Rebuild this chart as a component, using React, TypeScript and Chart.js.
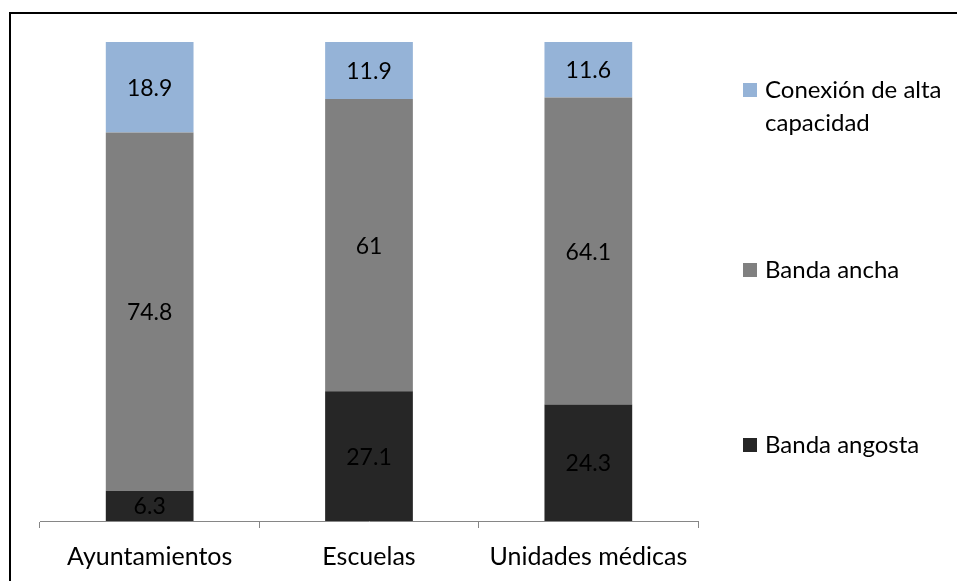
import React, { useEffect, useRef } from "react";
import { Chart, registerables } from "chart.js";

Chart.register(...registerables);

const categories = ["Ayuntamientos", "Escuelas", "Unidades médicas"];
const seriesNames = ["Banda angosta", "Banda ancha", "Conexión de alta capacidad"];
const legendLines = [["Banda angosta"], ["Banda ancha"], ["Conexión de alta", "capacidad"]];
const bandaAngosta = [6.3, 27.1, 24.3];
const bandaAncha = [74.8, 61, 64.1];
const altaCapacidad = [18.9, 11.9, 11.6];
const seriesColors = ["#262626", "#808080", "#95B3D7"];

const FONT = "Lato, 'Open Sans', sans-serif";

const valueLabels = {
  id: "valueLabels",
  afterDatasetsDraw(chart: any) {
    const ctx = chart.ctx;
    ctx.save();
    ctx.font = `23px ${FONT}`;
    ctx.fillStyle = "#000";
    ctx.textAlign = "center";
    ctx.textBaseline = "middle";
    chart.data.datasets.forEach((ds: any, i: number) => {
      const meta = chart.getDatasetMeta(i);
      meta.data.forEach((el: any, j: number) => {
        const p = el.getProps(["x", "y", "base"], true);
        ctx.fillText(String(ds.data[j]), p.x, (p.y + p.base) / 2 + 1);
      });
    });
    ctx.restore();
  },
};

const sideLegend = {
  id: "sideLegend",
  afterDraw(chart: any) {
    const ctx = chart.ctx;
    const area = chart.chartArea;
    const x0 = area.right + 45;
    const rowY = [445, 270, 90];
    ctx.save();
    ctx.font = `24px ${FONT}`;
    ctx.textAlign = "left";
    ctx.textBaseline = "middle";
    chart.data.datasets.forEach((ds: any, i: number) => {
      const y = rowY[i];
      ctx.fillStyle = ds.backgroundColor;
      ctx.fillRect(x0, y - 7, 14, 14);
      ctx.fillStyle = "#000";
      legendLines[i].forEach((line, k) => {
        ctx.fillText(line, x0 + 22, y + k * 33);
      });
    });
    ctx.restore();
  },
};

export default function App() {
  const canvasRef = useRef<HTMLCanvasElement | null>(null);

  useEffect(() => {
    const canvas = canvasRef.current;
    if (!canvas) return;
    const chart = new Chart(canvas, {
      type: "bar",
      data: {
        labels: categories,
        datasets: [
          { label: seriesNames[0], data: bandaAngosta, backgroundColor: seriesColors[0] },
          { label: seriesNames[1], data: bandaAncha, backgroundColor: seriesColors[1] },
          { label: seriesNames[2], data: altaCapacidad, backgroundColor: seriesColors[2] },
        ],
      },
      options: {
        responsive: false,
        animation: false,
        devicePixelRatio: 1,
        layout: { padding: { left: 40, right: 259, top: 42, bottom: 0 } },
        datasets: { bar: { categoryPercentage: 1, barPercentage: 0.4 } },
        plugins: { legend: { display: false }, tooltip: { enabled: false } },
        scales: {
          x: {
            stacked: true,
            offset: true,
            grid: {
              display: true,
              offset: true,
              drawOnChartArea: false,
              drawTicks: true,
              tickLength: 7,
              color: "#868686",
            },
            border: { display: true, color: "#868686", width: 1 },
            ticks: { color: "#000", font: { family: FONT, size: 25 }, padding: 14, maxRotation: 0 },
            afterFit(scale: any) {
              scale.height = 60;
            },
          },
          y: { stacked: true, display: false, min: 0, max: 100 },
        },
      },
      plugins: [valueLabels, sideLegend],
    });
    return () => chart.destroy();
  }, []);

  return (
    <div style={{ position: "fixed", left: 0, top: 0, width: 957, height: 581, overflow: "hidden", background: "#fff" }}>
      <div
        style={{
          position: "absolute",
          left: 9,
          top: 12,
          width: 2000,
          height: 2000,
          borderLeft: "2px solid #000",
          borderTop: "2px solid #000",
        }}
      />
      <canvas ref={canvasRef} width={957} height={581} style={{ position: "absolute", left: 0, top: 0 }} />
    </div>
  );
}
